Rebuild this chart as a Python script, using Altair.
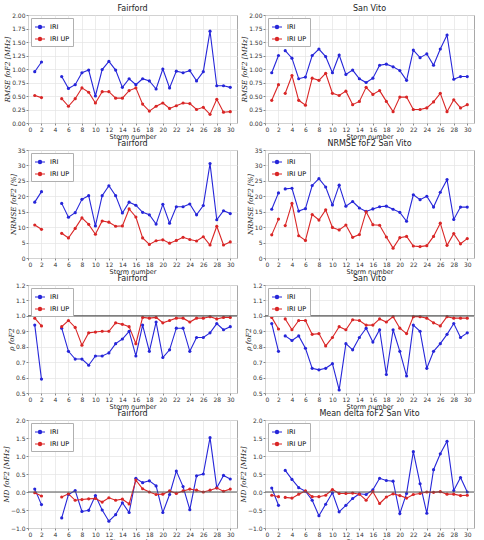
import altair as alt
import pandas as pd

STORMS = list(range(1, 31))
MODELS = ["IRI", "IRI UP"]
BLUE = "#2626d9"
RED = "#d92626"

# Fairford has no data for storms 3 and 4
fair_rmse_iri = [0.95, 1.13, None, None, 0.86, 0.64, 0.71, 0.93, 0.98, 0.50,
                 0.99, 1.14, 0.98, 0.66, 0.82, 0.71, 0.82, 0.78, 0.63, 1.00,
                 0.65, 0.96, 0.93, 0.97, 0.78, 0.95, 1.70, 0.69, 0.69, 0.66]
fair_rmse_up = [0.51, 0.47, None, None, 0.45, 0.31, 0.45, 0.65, 0.57, 0.37,
                0.58, 0.58, 0.46, 0.46, 0.60, 0.65, 0.35, 0.22, 0.31, 0.37,
                0.27, 0.32, 0.37, 0.36, 0.25, 0.29, 0.16, 0.44, 0.20, 0.21]

sv_rmse_iri = [0.93, 1.25, 1.34, 1.20, 0.82, 0.85, 1.25, 1.37, 1.23, 0.93,
               1.26, 0.90, 0.98, 0.82, 0.75, 0.83, 1.07, 1.09, 1.04, 0.97,
               0.79, 1.35, 1.21, 1.28, 1.07, 1.37, 1.63, 0.81, 0.86, 0.86]
sv_rmse_up = [0.42, 0.71, 0.55, 0.88, 0.42, 0.33, 0.83, 0.79, 0.92, 0.55,
              0.51, 0.59, 0.34, 0.40, 0.66, 0.53, 0.60, 0.40, 0.21, 0.48,
              0.48, 0.25, 0.25, 0.28, 0.39, 0.55, 0.21, 0.43, 0.28, 0.34]

fair_nrmse_iri = [18.1, 21.5, None, None, 17.7, 13.2, 14.7, 19.0, 20.2, 10.4,
                  20.2, 23.4, 20.2, 14.6, 18.1, 17.1, 14.8, 14.0, 11.0, 17.4,
                  11.3, 16.6, 16.6, 17.5, 14.0, 17.0, 30.6, 12.4, 15.3, 14.4]
fair_nrmse_up = [10.7, 9.3, None, None, 8.0, 6.5, 9.6, 13.0, 10.9, 7.7,
                 12.0, 11.6, 10.3, 10.4, 15.9, 13.3, 6.5, 4.4, 5.6, 5.9,
                 4.8, 5.7, 6.7, 6.0, 5.5, 6.9, 4.2, 10.3, 4.2, 5.2]

sv_nrmse_iri = [15.8, 21.1, 22.4, 22.6, 15.2, 16.0, 23.5, 25.7, 23.0, 17.2,
                23.6, 16.8, 18.3, 16.2, 15.1, 15.9, 16.6, 16.8, 15.8, 14.8,
                11.9, 20.5, 18.9, 20.0, 16.5, 21.3, 25.4, 12.5, 16.5, 16.5]
sv_nrmse_up = [7.5, 12.6, 10.5, 17.7, 7.2, 5.7, 14.1, 12.3, 15.6, 9.9,
               9.1, 10.7, 6.7, 7.6, 15.0, 10.8, 10.6, 6.8, 3.2, 6.6,
               7.0, 3.9, 3.7, 4.0, 7.0, 11.3, 4.1, 7.9, 4.6, 6.3]

fair_rho_iri = [0.94, 0.59, None, None, 0.92, 0.77, 0.72, 0.72, 0.68, 0.74,
                0.74, 0.76, 0.82, 0.85, 0.90, 0.74, 0.94, 0.77, 0.96, 0.73,
                0.78, 0.92, 0.92, 0.77, 0.86, 0.86, 0.89, 0.95, 0.91, 0.93]
fair_rho_up = [0.985, 0.935, None, None, 0.93, 0.97, 0.925, 0.81, 0.89, 0.895,
               0.90, 0.90, 0.955, 0.945, 0.93, 0.82, 0.99, 0.985, 0.99, 0.955,
               0.97, 0.985, 0.985, 0.96, 0.985, 0.985, 0.995, 0.98, 0.99, 0.99]

sv_rho_iri = [0.95, 0.77, 0.87, 0.84, 0.87, 0.79, 0.66, 0.65, 0.66, 0.69,
              0.52, 0.82, 0.78, 0.86, 0.92, 0.83, 0.91, 0.62, 0.91, 0.77,
              0.61, 0.94, 0.90, 0.66, 0.77, 0.82, 0.88, 0.95, 0.86, 0.89]
sv_rho_up = [0.99, 0.915, 0.98, 0.91, 0.97, 0.97, 0.88, 0.885, 0.805, 0.86,
             0.93, 0.91, 0.975, 0.97, 0.94, 0.94, 0.98, 0.96, 0.995, 0.92,
             0.885, 0.995, 0.995, 0.985, 0.955, 0.935, 0.995, 0.985, 0.985, 0.985]

fair_md_iri = [0.08, -0.35, None, None, -0.72, -0.07, 0.04, -0.54, -0.51, -0.10,
               -0.50, -0.81, -0.63, -0.30, -0.57, 0.38, 0.26, 0.31, 0.17, -0.57,
               -0.07, 0.58, 0.15, -0.49, 0.45, 0.50, 1.51, 0.12, 0.46, 0.36]
fair_md_up = [-0.02, -0.11, None, None, -0.14, -0.05, -0.23, -0.21, -0.19, -0.18,
              -0.28, -0.16, -0.23, -0.20, -0.33, 0.33, 0.09, 0.00, -0.07, -0.06,
              0.03, -0.04, 0.03, 0.08, 0.05, 0.00, 0.05, 0.11, 0.02, 0.08]

sv_md_iri = [0.11, -0.37, 0.60, 0.35, 0.12, 0.02, -0.23, -0.66, -0.34, -0.02,
             -0.55, -0.37, -0.18, -0.05, -0.07, 0.06, 0.38, 0.32, 0.30, -0.60,
             -0.04, 1.12, 0.23, -0.59, 0.62, 1.06, 1.41, 0.04, 0.40, 0.00]
sv_md_up = [-0.09, -0.13, -0.15, -0.17, -0.06, 0.03, -0.13, -0.13, -0.09, 0.07,
            -0.04, -0.04, -0.03, -0.06, -0.23, 0.01, -0.32, -0.14, -0.05, -0.10,
            -0.17, -0.07, -0.04, 0.00, -0.01, 0.01, -0.06, -0.06, -0.10, -0.09]

FONT = "DejaVu Sans"
W, H = 209, 108


def ticks(lo, hi, step):
    n = int(round((hi - lo) / step))
    return [round(lo + i * step, 4) for i in range(n + 1)]


def panel(iri, iri_up, title, ytitle, ylo, yhi, ystep, fmt, ref=None):
    rows = []
    for name, vals in zip(MODELS, (iri, iri_up)):
        for s, v in zip(STORMS, vals):
            if v is None:
                continue
            # separate run ids so the line breaks across missing storms
            rows.append({"storm": s, "value": v, "model": name,
                         "run": 0 if s < 3 else 1})
    df = pd.DataFrame(rows)

    x = alt.X("storm:Q", scale=alt.Scale(domain=[0, 31], nice=False, zero=False),
              axis=alt.Axis(values=list(range(0, 31, 2)), title="Storm number",
                            format="d"))
    y = alt.Y("value:Q", scale=alt.Scale(domain=[ylo, yhi], nice=False, zero=False),
              axis=alt.Axis(values=ticks(ylo, yhi, ystep), format=fmt, title=ytitle,
                            labelOverlap=False))
    color = alt.Color("model:N",
                      scale=alt.Scale(domain=MODELS, range=[BLUE, RED]),
                      legend=alt.Legend(title=None, orient="top-left", offset=3,
                                        symbolType="M-1,0L1,0M-0.32,0a0.32,0.32 0 1,0 0.64,0a0.32,0.32 0 1,0 -0.64,0",
                                        symbolSize=100, symbolStrokeWidth=1.2,
                                        labelFontSize=6.5, labelFont=FONT,
                                        strokeColor="#b0b0b0", fillColor="white",
                                        padding=3, rowPadding=2, labelOffset=4,
                                        cornerRadius=0))

    base = alt.Chart(df)
    layers = [
        base.mark_line(strokeWidth=1.1).encode(x=x, y=y, color=color, detail="run:N"),
        base.mark_point(filled=True, size=10, opacity=1).encode(x=x, y=y, color=color),
    ]
    if ref is not None:
        layers.append(alt.Chart(pd.DataFrame({"value": [ref]}))
                      .mark_rule(color="#555555", strokeWidth=1.1)
                      .encode(y=y))
    return alt.layer(*layers).properties(
        width=W, height=H,
        title=alt.TitleParams(title, fontSize=8, font=FONT, fontWeight="normal",
                              offset=-1, color="#222222"))


specs = [
    (fair_rmse_iri, fair_rmse_up, "Fairford", "RMSE foF2 [MHz]", 0, 2, 0.25, ".2f", None),
    (sv_rmse_iri, sv_rmse_up, "San Vito", "RMSE foF2 [MHz]", 0, 2, 0.25, ".2f", None),
    (fair_nrmse_iri, fair_nrmse_up, "Fairford", "NRMSE foF2 [%]", 0, 35, 5, "d", None),
    (sv_nrmse_iri, sv_nrmse_up, "NRMSE foF2 San Vito", "NRMSE foF2 [%]", 0, 35, 5, "d", None),
    (fair_rho_iri, fair_rho_up, "Fairford", "ρ foF2", 0.5, 1.2, 0.1, ".1f", 1.0),
    (sv_rho_iri, sv_rho_up, "San Vito", "ρ foF2", 0.5, 1.2, 0.1, ".1f", 1.0),
    (fair_md_iri, fair_md_up, "Fairford", "MD foF2 [MHz]", -1, 2, 0.5, ".1f", 0.0),
    (sv_md_iri, sv_md_up, "Mean delta foF2 San Vito", "MD foF2 [MHz]", -1, 2, 0.5, ".1f", 0.0),
]

panels = [panel(*s) for s in specs]

chart = (
    alt.concat(*panels, columns=2, spacing={"row": 27, "column": 28}, bounds="flush")
    .resolve_scale(color="independent", x="independent", y="independent")
    .resolve_legend(color="independent")
    .properties(padding={"left": 1, "top": 4, "right": 6, "bottom": 0},
                background="white")
    .configure_view(stroke="#a8a8a8", strokeWidth=1)
    .configure_axis(labelFontSize=6, labelFont=FONT, labelColor="#333333",
                    titleFontSize=6.5, titleFont=FONT, titleFontWeight="normal",
                    titleColor="#222222", tickSize=2, tickColor="#888888",
                    labelPadding=1, titlePadding=1, domain=False,
                    gridColor="#e4e4e4", gridWidth=0.7)
    .configure_axisY(titleFont="DejaVu Serif", titleFontStyle="italic",
                     titleFontSize=7)
)

chart.save("out.html", embed_options={"renderer": "svg", "actions": False})
